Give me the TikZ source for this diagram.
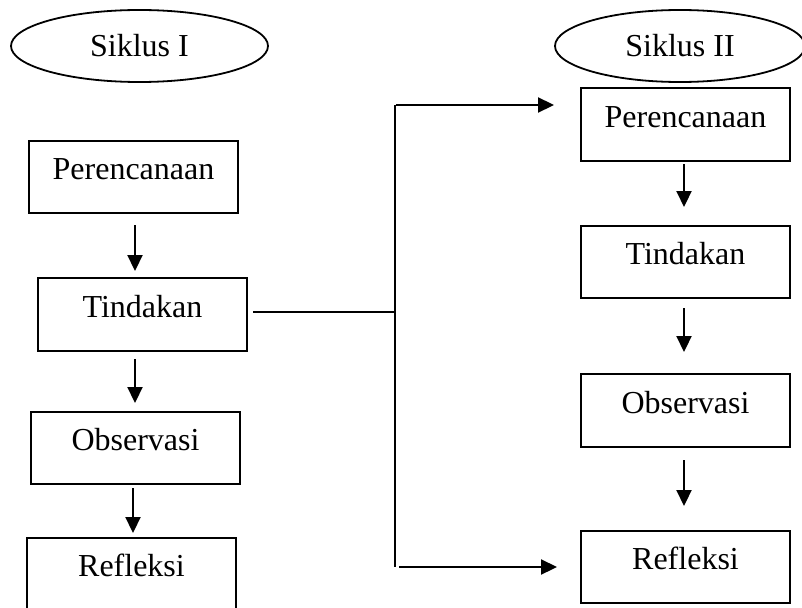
\documentclass[tikz,border=0pt]{standalone}
\usepackage{fontspec}
\setmainfont{Liberation Serif}
\usetikzlibrary{shapes.geometric,arrows.meta}
\begin{document}
\begin{tikzpicture}[x=1pt,y=-1pt,
  lbl/.style={font=\fontsize{32}{38}\selectfont},
  stepbox/.style={draw,line width=2pt,minimum width=209pt,minimum height=72pt,inner sep=0pt,lbl,text height=0.8em,text depth=0.3em},
  oval/.style={draw,ellipse,line width=1.8pt,inner sep=0pt,lbl},
  conn/.style={line width=2.2pt},
  arr/.style={conn,-{Triangle[width=15pt,length=16pt]}}]
\useasboundingbox (0,0) rectangle (802,607);
% cycle labels
\node[oval,minimum width=257pt,minimum height=72pt] (s1) at (139.5,46) {Siklus I};
\node[oval,minimum width=250pt,minimum height=72pt] (s2) at (680,46) {Siklus II};
% left column
\node[stepbox] (L1) at (133.5,177) {Perencanaan};
\node[stepbox,minimum height=73pt] (L2) at (142.5,314.5) {Tindakan};
\node[stepbox] (L3) at (135.5,448) {Observasi};
\node[stepbox] (L4) at (131.5,574) {Refleksi};
% right column
\node[stepbox,minimum height=73pt] (R1) at (685.5,124.5) {Perencanaan};
\node[stepbox] (R2) at (685.5,262) {Tindakan};
\node[stepbox,minimum height=73pt] (R3) at (685.5,410.5) {Observasi};
\node[stepbox] (R4) at (685.5,567) {Refleksi};
% left arrows
\draw[arr,shorten <=11pt,shorten >=6pt] ([xshift=1.5pt]L1.south) -- ([xshift=1.5pt]L1.south |- L2.north);
\draw[arr,shorten <=7pt,shorten >=8pt] ([xshift=-7.5pt]L2.south) -- ([xshift=-7.5pt]L2.south |- L3.north);
\draw[arr,shorten <=3pt,shorten >=4pt] ([xshift=-2.5pt]L3.south) -- ([xshift=-2.5pt]L3.south |- L4.north);
% right arrows
\draw[arr,shorten <=2pt,shorten >=18pt] ([xshift=-1.5pt]R1.south) -- ([xshift=-1.5pt]R1.south |- R2.north);
\draw[arr,shorten <=9pt,shorten >=21pt] ([xshift=-1.5pt]R2.south) -- ([xshift=-1.5pt]R2.south |- R3.north);
\draw[arr,shorten <=12pt,shorten >=24pt] ([xshift=-1.5pt]R3.south) -- ([xshift=-1.5pt]R3.south |- R4.north);
% connector from Tindakan to Siklus II
\coordinate (j) at (395,312);
\coordinate (jt) at (395,105);
\coordinate (jb) at (395,567);
\draw[conn,shorten <=5pt] (L2.east |- j) -- (j);
\draw[conn] (jt) -- (jb);
\draw[arr,shorten <=1pt,shorten >=26pt] (jt) -- (jt -| R1.west);
\draw[arr,shorten <=4pt,shorten >=23pt] (jb) -- (R4.west);
\end{tikzpicture}
\end{document}
